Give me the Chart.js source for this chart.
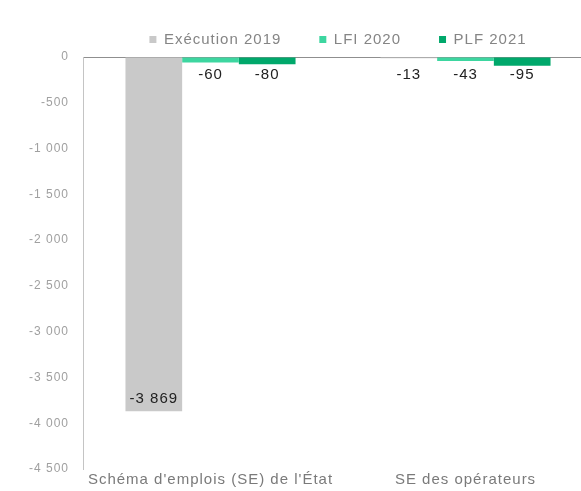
<!DOCTYPE html>
<html>
<head>
<meta charset="utf-8">
<script src="https://cdn.jsdelivr.net/npm/chart.js@4"></script>
<style>
  html, body { margin: 0; padding: 0; background: #fff; overflow: hidden; }
  #wrap { width: 676px; height: 500px; position: relative; }
</style>
</head>
<body>
<div id="wrap"><canvas id="chart"></canvas></div>
<script>
const categories = ["Schéma d'emplois (SE) de l'État", 'SE des opérateurs'];
const execution2019 = [-3869, -13];
const lfi2020 = [-60, -43];
const plf2021 = [-80, -95];
const yTicks = { min: -4500, max: 0, step: 500 };

// format like "-1 000"
const fmt = v => {
    const s = String(Math.abs(Math.round(v))).replace(/\B(?=(\d{3})+(?!\d))/g, ' ');
    return (v < 0 ? '-' : '') + s;
};

// --- spacing between letters, the source text is drawn a bit wide ---
const spacingPlugin = {
    id: 'spacing',
    beforeLayout(chart) { chart.ctx.letterSpacing = '1px'; },
    beforeDraw(chart) { chart.ctx.letterSpacing = '1px'; }
};

// --- value labels on the bars ---
const valueLabels = {
    id: 'valueLabels',
    afterDatasetsDraw(chart) {
        const ctx = chart.ctx;
        ctx.save();
        ctx.font = '15px "Liberation Sans", Arial, sans-serif';
        ctx.fillStyle = '#222';
        ctx.textAlign = 'center';
        ctx.textBaseline = 'middle';
        chart.data.datasets.forEach((ds, i) => {
            const meta = chart.getDatasetMeta(i);
            meta.data.forEach((bar, j) => {
                const { x, y, base } = bar.getProps(['x', 'y', 'base'], true);
                const len = Math.abs(y - base);
                const ly = len > 40 ? y - 12 : base + 17;
                ctx.fillText(fmt(ds.data[j]), x, ly);
            });
        });
        ctx.restore();
    }
};

new Chart(document.getElementById('chart'), {
    type: 'bar',
    data: {
        labels: categories,
        datasets: [
            { label: 'Exécution 2019', data: execution2019, backgroundColor: '#c9c9c9' },
            { label: 'LFI 2020', data: lfi2020, backgroundColor: '#3dd6a0' },
            { label: 'PLF 2021', data: plf2021, backgroundColor: '#00a86b' }
        ]
    },
    options: {
        responsive: true,
        maintainAspectRatio: false,
        animation: false,
        layout: { padding: { top: -6 } },
        datasets: { bar: { categoryPercentage: 0.667, barPercentage: 1 } },
        plugins: {
            tooltip: { enabled: false },
            legend: {
                position: 'top',
                maxHeight: 66,
                labels: {
                    boxWidth: 7,
                    boxHeight: 7,
                    padding: 38,
                    color: '#858585',
                    font: { family: '"Liberation Sans", Arial, sans-serif', size: 15 }
                }
            }
        },
        scales: {
            x: {
                grid: { display: false },
                border: { display: false },
                ticks: {
                    color: '#7a7a7a',
                    padding: -6,
                    maxRotation: 0,
                    font: { family: '"Liberation Sans", Arial, sans-serif', size: 15 }
                },
                afterFit(s) { s.height = 31; }
            },
            y: {
                min: yTicks.min,
                max: yTicks.max,
                grid: {
                    drawTicks: false,
                    color: c => (c.tick && c.tick.value === 0 ? '#8f8f8f' : 'rgba(0,0,0,0)')
                },
                border: { display: true, color: '#c4c4c4' },
                ticks: {
                    stepSize: yTicks.step,
                    padding: 14,
                    color: '#a0a0a0',
                    font: { family: '"Liberation Sans", Arial, sans-serif', size: 12 },
                    callback: v => fmt(v)
                },
                afterFit(s) { s.width = 83; }
            },
            yPad: {
                position: 'right',
                grid: { display: false },
                border: { display: false },
                ticks: { display: false },
                afterFit(s) { s.width = 83; }
            }
        }
    },
    plugins: [spacingPlugin, valueLabels]
});
</script>
</body>
</html>
